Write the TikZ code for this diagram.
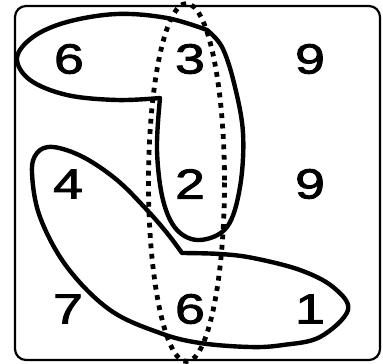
\documentclass[tikz,border=0pt]{standalone}
\usepackage{fontspec}
\setmainfont{Liberation Sans}
\newfontfamily\digitfont{Liberation Sans}[FakeStretch=1.28,FakeBold=2.2]
\begin{document}
\begin{tikzpicture}[x=1pt,y=-1pt,
  digit/.style={inner sep=0pt,font=\digitfont\fontsize{42}{44}\selectfont},
  outline/.style={line width=4.4pt,line join=round},
  dotline/.style={line width=4.8pt,dash pattern=on 4.8pt off 5.6pt}]
\useasboundingbox (0,0) rectangle (383,364);
\draw[line width=2.2pt,rounded corners=11pt] (15,6) rectangle (380,360);
% digits
\node[digit] (a1) at (69,59) {6};
\node[digit] (a2) at (190,59) {3};
\node[digit] (a3) at (310,59) {9};
\node[digit] (b1) at (68,184) {4};
\node[digit] (b2) at (190,184) {2};
\node[digit] (b3) at (310,184) {9};
\node[digit] (c1) at (68,309) {7};
\node[digit] (c2) at (190,309) {6};
\node[digit] (c3) at (310,309) {1};
% upper solid outline
\draw[outline] plot[smooth,tension=0.6] coordinates {(160,98) (117,100) (67,95) (30,80) (17,58) (33,37) (67,22) (117,14) (167,18) (207,30)}
  -- plot[smooth,tension=0.6] coordinates {(207,30) (222,47) (234,83) (243,133) (240,187) (227,227) (200,240) (177,230) (163,200) (157,150) (160,98)} -- cycle;
% lower solid outline
\draw[outline] plot[smooth,tension=0.6] coordinates {(182,253) (167,233) (147,210) (117,180) (83,157) (53,147) (37,153) (32,173) (40,217) (67,267) (110,310) (160,333) (200,343) (250,347) (283,345) (320,337) (348,310) (333,287) (300,270) (253,258) (220,254) (182,253)} -- cycle;
% dotted ellipse
\draw[dotline] (186.5,182.5) ellipse [x radius=38, y radius=179];
\end{tikzpicture}
\end{document}
